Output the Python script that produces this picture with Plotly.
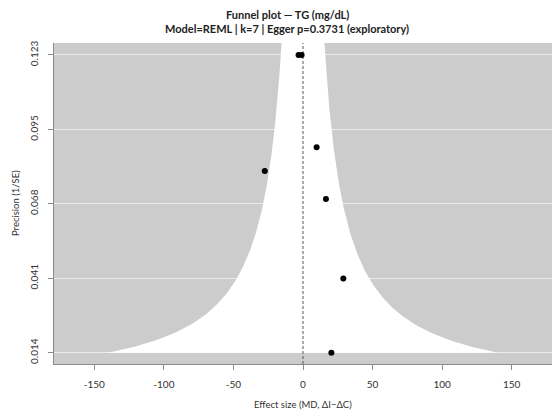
import numpy as np
import plotly.graph_objects as go

# Study estimates (mean difference) and their precision (1/SE)
effect = [-3.2, -1.0, 9.8, -27.5, 16.5, 29.0, 20.4]
precision = [0.123, 0.123, 0.0892, 0.0805, 0.0703, 0.0412, 0.014]

# Pooled REML estimate and pseudo-CI multiplier for the funnel region
pooled = 0.0
z_crit = 1.96

x_ticks = [-150, -100, -50, 0, 50, 100, 150]
y_ticks = [0.014, 0.04125, 0.0685, 0.09575, 0.123]
y_tick_labels = ["0.014", "0.041", "0.068", "0.095", "0.123"]

x_range = [-179, 179]
y_range = [0.00986, 0.12739]

FONT = "Lato, 'Open Sans', sans-serif"

# funnel region: pooled +/- z * SE, from the least precise study up to the top of the axis
prec_grid = np.linspace(min(precision), y_range[1], 400)
half_width = z_crit / prec_grid
fx = np.concatenate([pooled - half_width, (pooled + half_width)[::-1]])
fy = np.concatenate([prec_grid, prec_grid[::-1]])

fig = go.Figure()
fig.add_trace(go.Scatter(
    x=fx, y=fy, mode="lines", fill="toself", fillcolor="white",
    line=dict(width=0), hoverinfo="skip", showlegend=False,
))
fig.add_trace(go.Scatter(
    x=[pooled, pooled], y=y_range, mode="lines",
    line=dict(color="#555555", width=1, dash="3px,2px"),
    hoverinfo="skip", showlegend=False,
))
fig.add_trace(go.Scatter(
    x=effect, y=precision, mode="markers",
    marker=dict(color="black", size=6),
    showlegend=False,
))

W, H = 552, 416
ml, mr, mt, mb = 54, 0, 43, 52
pw, ph = W - ml - mr, H - mt - mb


def px_x(px):
    return (px - ml) / pw


def px_y(py):
    return 1 - (py - mt) / ph


fig.update_layout(
    width=W, height=H,
    margin=dict(l=ml, r=mr, t=mt, b=mb),
    paper_bgcolor="white",
    plot_bgcolor="#cccccc",
    font=dict(family=FONT, size=10, color="#333333"),
    xaxis=dict(
        range=x_range, tickvals=x_ticks, ticktext=[str(v) for v in x_ticks],
        showgrid=False, zeroline=False,
        showline=True, linecolor="#8a8a8a", linewidth=1,
        ticks="outside", ticklen=5, tickcolor="#8a8a8a",
        tickfont=dict(size=10, color="#333333"),
        ticklabelstandoff=6,
    ),
    yaxis=dict(
        range=y_range, tickvals=y_ticks, ticktext=y_tick_labels,
        showgrid=True, gridcolor="#ececec", gridwidth=1,
        zeroline=False,
        showline=True, linecolor="#8a8a8a", linewidth=1,
        ticks="outside", ticklen=5, tickcolor="#8a8a8a",
        tickangle=-90,
        tickfont=dict(size=10, color="#333333"),
        ticklabelstandoff=6,
    ),
    annotations=[
        dict(text="<b>Funnel plot — TG (mg/dL)</b>", xref="paper", yref="paper",
             x=px_x(287), y=px_y(14), showarrow=False, xanchor="center", yanchor="middle",
             font=dict(family=FONT, size=11, color="#222222")),
        dict(text="<b>Model=REML | k=7 | Egger p=0.3731 (exploratory)</b>", xref="paper", yref="paper",
             x=px_x(287), y=px_y(28), showarrow=False, xanchor="center", yanchor="middle",
             font=dict(family=FONT, size=11, color="#222222")),
        dict(text="Effect size (MD, ΔI−ΔC)", xref="paper", yref="paper",
             x=px_x(303), y=px_y(405), showarrow=False, xanchor="center", yanchor="middle",
             font=dict(family=FONT, size=9.5, color="#333333")),
        dict(text="Precision (1/SE)", xref="paper", yref="paper",
             x=px_x(15), y=px_y(203), showarrow=False, xanchor="center", yanchor="middle",
             textangle=-90, font=dict(family=FONT, size=9.5, color="#333333")),
    ],
)

fig.write_html("out.html")
